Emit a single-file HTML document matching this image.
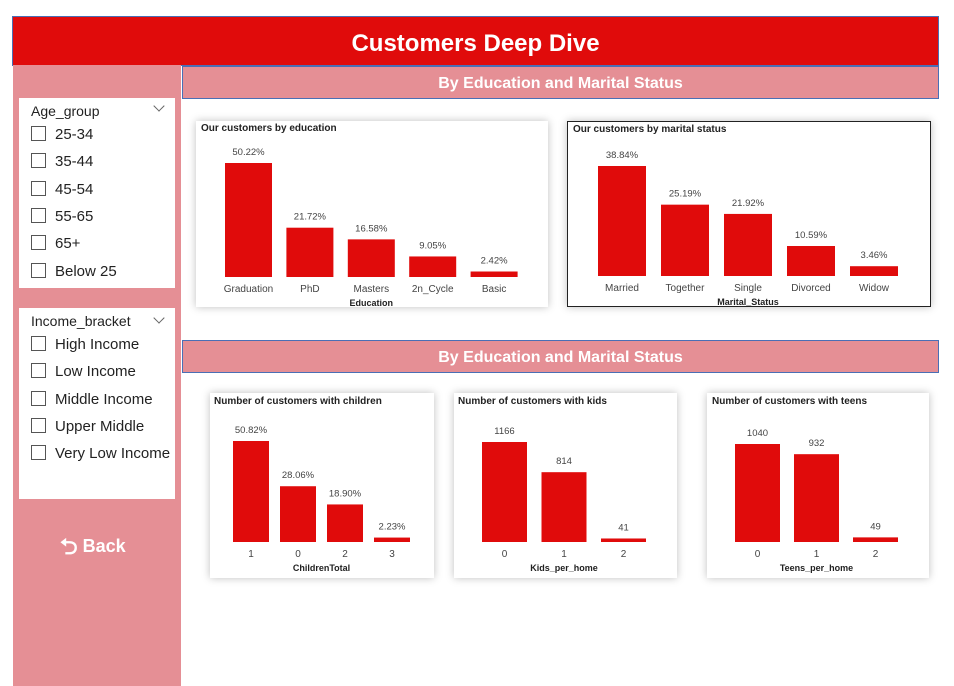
<!DOCTYPE html>
<html><head><meta charset="utf-8">
<style>
body{margin:0;width:954px;height:686px;background:#fff;position:relative;overflow:hidden;font-family:"Liberation Sans",sans-serif}
.abs{position:absolute}
#header{left:12px;top:16px;width:925px;height:48px;background:#e00b0b;border:1px solid #4a6fb5;color:#fff;font-weight:bold;font-size:24px;text-align:center;line-height:54px}
#sidebar{left:13px;top:65px;width:168px;height:621px;background:#e58f95}
.sec{left:182px;width:755px;height:31px;background:#e58f95;border:1px solid #4a6fb5;color:#fff;font-weight:bold;font-size:16px;text-align:center;line-height:34px}
.slicer{background:#fff;left:19px;width:156px}
.stitle{position:absolute;left:12px;font-size:14px;color:#222}
.chev{position:absolute;right:12px;width:7px;height:7px;border-right:1px solid #666;border-bottom:1px solid #666;transform:rotate(45deg)}
.item{position:absolute;left:12px;font-size:15px;color:#222;height:20px;line-height:20px}
.item span.box{display:inline-block;width:13px;height:13px;border:1px solid #555;vertical-align:-2px;margin-right:9px}
.card{background:#fff;box-shadow:0 0 8px rgba(0,0,0,0.25)}
#back{left:60px;top:530px;color:#fff;font-weight:bold;font-size:18px}
</style></head><body>
<div class="abs" id="header">Customers Deep Dive</div>
<div class="abs" id="sidebar"></div>
<div class="abs sec" style="top:66px">By Education and Marital Status</div>
<div class="abs sec" style="top:340px">By Education and Marital Status</div>

<div class="abs slicer" style="top:98px;height:190px">
<div class="stitle" style="top:5px">Age_group</div>
<div class="chev" style="top:4px"></div>
<div class="item" style="top:27px"><span class="box"></span>25-34</div>
<div class="item" style="top:54px"><span class="box"></span>35-44</div>
<div class="item" style="top:82px"><span class="box"></span>45-54</div>
<div class="item" style="top:109px"><span class="box"></span>55-65</div>
<div class="item" style="top:136px"><span class="box"></span>65+</div>
<div class="item" style="top:164px"><span class="box"></span>Below 25</div>
</div>

<div class="abs slicer" style="top:308px;height:191px">
<div class="stitle" style="top:5px">Income_bracket</div>
<div class="chev" style="top:6px"></div>
<div class="item" style="top:27px"><span class="box"></span>High Income</div>
<div class="item" style="top:54px"><span class="box"></span>Low Income</div>
<div class="item" style="top:82px"><span class="box"></span>Middle Income</div>
<div class="item" style="top:109px"><span class="box"></span>Upper Middle</div>
<div class="item" style="top:136px"><span class="box"></span>Very Low Income</div>
</div>

<div class="abs" id="back"><span style="font-size:22px;vertical-align:-2px">⮌</span> Back</div>

<div class="abs card" style="left:196px;top:121px;width:352px;height:186px"></div>
<div class="abs card" style="left:567px;top:121px;width:362px;height:184px;border:1px solid #222"></div>
<div class="abs card" style="left:210px;top:393px;width:224px;height:185px"></div>
<div class="abs card" style="left:454px;top:393px;width:223px;height:185px"></div>
<div class="abs card" style="left:707px;top:393px;width:222px;height:185px"></div>

<svg id="charts" class="abs" style="left:0;top:0" width="954" height="686"></svg>

<script>
const eduCats=["Graduation","PhD","Masters","2n_Cycle","Basic"];
const eduVals=[50.22,21.72,16.58,9.05,2.42];
const marCats=["Married","Together","Single","Divorced","Widow"];
const marVals=[38.84,25.19,21.92,10.59,3.46];
const chCats=["1","0","2","3"];
const chVals=[50.82,28.06,18.90,2.23];
const kidCats=["0","1","2"];
const kidVals=[1166,814,41];
const teenCats=["0","1","2"];
const teenVals=[1040,932,49];

const NS="http://www.w3.org/2000/svg";
const svg=document.getElementById('charts');
function t(x,y,s,size,opts){
  const e=document.createElementNS(NS,'text');
  e.setAttribute('x',x);e.setAttribute('y',y);
  e.setAttribute('font-size',size);
  e.setAttribute('font-family','"Liberation Sans",sans-serif');
  e.setAttribute('fill',opts.fill||'#444');
  if(opts.anchor)e.setAttribute('text-anchor',opts.anchor);
  if(opts.bold)e.setAttribute('font-weight','bold');
  e.textContent=s;svg.appendChild(e);return e;
}
function chart(c){
  const max=Math.max(...c.vals);
  const y=v=>c.base-v/max*c.h;
  const xs=i=>c.x0+i*c.step;
  const title=t(c.tx,c.ty,c.title,10,{fill:'#222',bold:true});
  
  
  c.vals.forEach((v,i)=>{
    const r=document.createElementNS(NS,'rect');
    r.setAttribute('x',xs(i));r.setAttribute('y',y(v));
    r.setAttribute('width',c.bw);r.setAttribute('height',c.base-y(v));
    r.setAttribute('fill','#e00b0b');
    
    
    svg.appendChild(r);
    const lab=t(xs(i)+c.bw/2,y(v)-8,c.fmt(v),9.5,{anchor:'middle'});
    
    
    const cl=t(xs(i)+c.bw/2,c.base+15,c.cats[i],c.catSize||10,{anchor:'middle'});
    
    
  });
  const at=t((xs(0)+xs(c.vals.length-1)+c.bw)/2,c.base+29,c.axis,9,{fill:'#222',anchor:'middle',bold:true});
  
  
}
const pct=v=>v.toFixed(2)+'%';
const num=v=>String(v);
chart({id:'education',cats:eduCats,vals:eduVals,x0:225,step:61.4,bw:47,base:277,h:114,tx:201,ty:131,title:'Our customers by education',axis:'Education',fmt:pct});
chart({id:'marital',cats:marCats,vals:marVals,x0:598,step:63,bw:48,base:276,h:110,tx:573,ty:132,title:'Our customers by marital status',axis:'Marital_Status',fmt:pct});
chart({id:'children',cats:chCats,vals:chVals,x0:233,step:47,bw:36,base:542,h:101,tx:214,ty:404,title:'Number of customers with children',axis:'ChildrenTotal',fmt:pct});
chart({id:'kids',cats:kidCats,vals:kidVals,x0:482,step:59.5,bw:45,base:542,h:100,tx:458,ty:404,title:'Number of customers with kids',axis:'Kids_per_home',fmt:num});
chart({id:'teens',cats:teenCats,vals:teenVals,x0:735,step:59,bw:45,base:542,h:98,tx:712,ty:404,title:'Number of customers with teens',axis:'Teens_per_home',fmt:num});
</script>
</body></html>
